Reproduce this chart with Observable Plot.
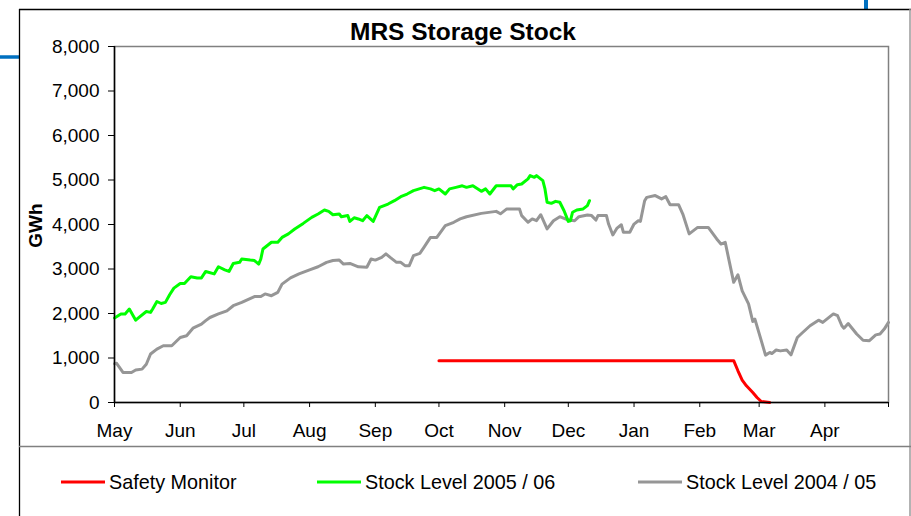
<!DOCTYPE html>
<html>
<head>
<meta charset="utf-8">
<script src="https://cdn.jsdelivr.net/npm/d3@7"></script>
<script src="https://cdn.jsdelivr.net/npm/@observablehq/plot@0.6"></script>
<style>
  html, body { margin: 0; padding: 0; background: #fff; }
  #chart { width: 911px; height: 516px; overflow: hidden; }
</style>
</head>
<body>
<div id="chart"></div>
<script>
// ---- Data (day offset from 1 May, value in GWh) ----
const monthLabels = ["May","Jun","Jul","Aug","Sep","Oct","Nov","Dec","Jan","Feb","Mar","Apr"];
const yTicks = [0,1000,2000,3000,4000,5000,6000,7000,8000];

const grayDays = [0,1,4,8,10,13,15,17,20,23,27,31,34,37,41,43,45,49,53,56,60,66,69,71,74,77,79,83,87,92,96,100,103,106,108,111,115,119,121,123,126,128,130,133,135,137,139,141,144,146,149,152,156,160,163,166,173,180,182,185,191,192,195,197,199,201,203,204,207,210,214,217,219,223,225,227,228,232,233,235,237,239,240,243,245,247,248,250,251,255,258,260,262,266,268,271,275,280,284,286,288,290,292,294,296,299,301,302,305,307,309,310,312,314,317,319,322,324,328,332,334,339,341,343,344,346,350,353,356,359,361,363,365];
const grayValues = [870,880,675,675,730,750,860,1090,1200,1275,1275,1460,1500,1670,1760,1840,1910,1990,2060,2175,2250,2380,2380,2440,2400,2475,2660,2800,2890,2980,3050,3150,3190,3200,3110,3125,3050,3040,3225,3200,3260,3340,3260,3150,3150,3075,3075,3300,3350,3490,3710,3710,3975,4050,4125,4175,4250,4295,4240,4350,4350,4200,4050,4125,4085,4220,4010,3900,4085,4175,4100,4085,4175,4215,4200,4100,4200,4200,4010,3765,3920,3995,3825,3825,4010,4085,4070,4535,4610,4650,4575,4625,4445,4445,4235,3790,3935,3935,3675,3560,3600,3150,2700,2870,2510,2215,1820,1875,1390,1065,1125,1100,1180,1160,1180,1070,1460,1550,1725,1850,1800,1990,1950,1725,1670,1775,1540,1400,1390,1520,1540,1650,1800];

const greenDays = [0,3,5,7,10,12,15,17,18,20,22,24,26,28,31,33,36,39,41,43,47,49,52,54,56,59,60,64,66,68,69,70,74,77,79,82,85,89,93,96,99,101,103,106,107,110,111,113,115,117,119,122,125,129,132,135,138,141,146,149,151,153,156,158,161,164,166,169,173,175,177,180,187,188,190,192,195,196,198,199,202,203,204,206,208,210,212,214,215,216,218,221,223,224];
const greenValues = [1900,1990,1990,2100,1850,1930,2045,2025,2100,2270,2225,2250,2420,2570,2675,2675,2825,2800,2800,2945,2890,3050,2980,2945,3125,3150,3225,3200,3190,3110,3225,3450,3600,3600,3710,3790,3900,4025,4160,4235,4325,4295,4220,4235,4175,4200,4070,4150,4125,4085,4200,4070,4385,4460,4535,4625,4685,4760,4835,4800,4760,4800,4685,4800,4835,4870,4835,4870,4745,4800,4685,4870,4870,4800,4895,4910,5025,5100,5060,5100,4985,4800,4500,4475,4520,4500,4310,4070,4085,4275,4325,4350,4425,4535];

const redDays = [153,292,294,296,298,301,303,305,309];
const redValues = [940,940,713,504,375,225,112,22,0];

// ---- Build tables ----
const start = new Date(Date.UTC(2005, 4, 1));
const end = new Date(Date.UTC(2006, 4, 1));
const toRows = (days, vals) => days.map((d, i) => ({date: d3.utcDay.offset(start, d), value: vals[i]}));
const gray = toRows(grayDays, grayValues);
const green = toRows(greenDays, greenValues);
const red = toRows(redDays, redValues);
const monthTicks = d3.utcMonth.range(start, d3.utcDay.offset(end, 1));
const labelFor = d => { const i = monthTicks.findIndex(t => +t === +d); return i >= 0 && i < monthLabels.length ? monthLabels[i] : ""; };

const font = "'Liberation Sans', Arial, sans-serif";

const chart = Plot.plot({
  width: 911,
  height: 516,
  marginLeft: 114,
  marginRight: 23,
  marginTop: 46,
  marginBottom: 114,
  style: {fontFamily: font, fontSize: "19px", background: "white", color: "black", overflow: "visible"},
  x: {type: "utc", domain: [start, end]},
  y: {domain: [0, 8000]},
  marks: [
    Plot.frame({stroke: "#808080", strokeWidth: 1.5}),
    Plot.line(gray, {x: "date", y: "value", stroke: "#969696", strokeWidth: 3}),
    Plot.line(green, {x: "date", y: "value", stroke: "#00ff00", strokeWidth: 3}),
    Plot.line(red, {x: "date", y: "value", stroke: "#ff0000", strokeWidth: 3}),
    Plot.ruleX([start], {stroke: "black", strokeWidth: 1.5}),
    Plot.ruleY([0], {stroke: "black", strokeWidth: 1.5}),
    Plot.axisX({ticks: monthTicks, tickFormat: labelFor, tickSize: 5, tickPadding: 16, label: null, fontSize: 19, stroke: "black"}),
    Plot.axisY({ticks: yTicks, tickFormat: d3.format(","), tickSize: 6, tickPadding: 9, label: null, fontSize: 19})
  ]
});
document.getElementById("chart").appendChild(chart);

// ---- Decorations, title, axis label, legend ----
const svg = d3.select(chart);
const deco = svg.insert("g", ":first-child");
deco.append("line").attr("x1", 0).attr("x2", 19).attr("y1", 57).attr("y2", 57).attr("stroke", "#0070c0").attr("stroke-width", 3.5);
deco.append("line").attr("x1", 866).attr("x2", 866).attr("y1", 0).attr("y2", 9).attr("stroke", "#0070c0").attr("stroke-width", 4);
deco.append("line").attr("x1", 19).attr("x2", 911).attr("y1", 9.5).attr("y2", 9.5).attr("stroke", "#000").attr("stroke-width", 1.3);
deco.append("line").attr("x1", 19.5).attr("x2", 19.5).attr("y1", 9).attr("y2", 516).attr("stroke", "#000").attr("stroke-width", 1.3);
deco.append("line").attr("x1", 910).attr("x2", 910).attr("y1", 9).attr("y2", 516).attr("stroke", "#9a9a9a").attr("stroke-width", 1.5);
deco.append("line").attr("x1", 19).attr("x2", 911).attr("y1", 446.5).attr("y2", 446.5).attr("stroke", "#808080").attr("stroke-width", 1.5);

svg.append("text").attr("x", 463).attr("y", 39.5).attr("text-anchor", "middle")
  .attr("font-family", font).attr("font-size", 24.5).attr("font-weight", "bold").attr("fill", "#000")
  .text("MRS Storage Stock");

svg.append("text").attr("transform", "translate(42,225.5) rotate(-90)").attr("text-anchor", "middle")
  .attr("font-family", font).attr("font-size", 19).attr("font-weight", "bold").attr("fill", "#000")
  .text("GWh");

const legend = [
  {label: "Safety Monitor", color: "#ff0000", x: 61},
  {label: "Stock Level 2005 / 06", color: "#00ff00", x: 317},
  {label: "Stock Level 2004 / 05", color: "#969696", x: 638}
];
const lg = svg.append("g").attr("text-anchor", "start");
legend.forEach(l => {
  lg.append("line").attr("x1", l.x).attr("x2", l.x + 44).attr("y1", 482).attr("y2", 482).attr("stroke", l.color).attr("stroke-width", 3);
  lg.append("text").attr("x", l.x + 48).attr("y", 482).attr("dy", "0.35em").attr("text-anchor", "start")
    .attr("font-family", font).attr("font-size", 19.8).attr("fill", "#000").text(l.label);
});
</script>
</body>
</html>
